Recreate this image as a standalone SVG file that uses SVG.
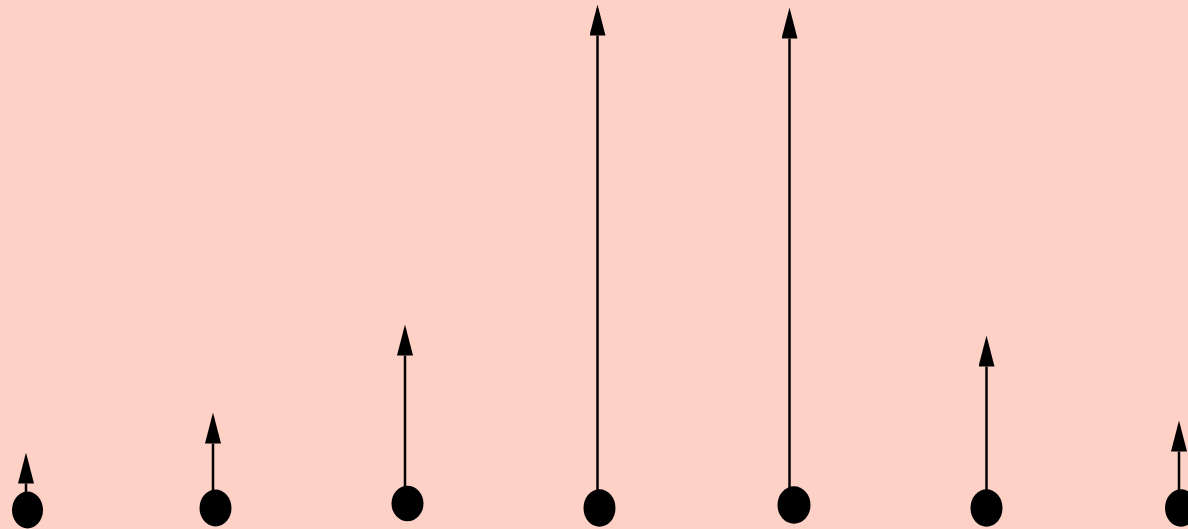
<svg xmlns="http://www.w3.org/2000/svg" width="1188" height="529" viewBox="0 0 1188 529">
  <style>
    .edge { stroke: #000; stroke-width: 2.5; fill: none; marker-end: url(#ah); }
    .dot { fill: #000; }
  </style>
  <defs>
    <marker id="ah" viewBox="0 0 31 16" refX="0" refY="8" markerWidth="31" markerHeight="16" markerUnits="userSpaceOnUse" orient="auto">
      <path d="M0,0 L31,8 L0,16 Z" fill="#000"/>
    </marker>
  </defs>
  <rect width="1188" height="529" fill="#FED1C7"/>
  <g id="connectors">
    <line class="edge" x1="26" y1="500" x2="26" y2="483.5"/>
    <line class="edge" x1="213" y1="500" x2="213" y2="443.5"/>
    <line class="edge" x1="405" y1="495" x2="405" y2="355.5"/>
    <line class="edge" x1="597.5" y1="500" x2="597.5" y2="35.5"/>
    <line class="edge" x1="789.5" y1="497" x2="789.5" y2="38.5"/>
    <line class="edge" x1="986.5" y1="500" x2="986.5" y2="366.5"/>
    <line class="edge" x1="1179" y1="500" x2="1179" y2="451.5"/>
  </g>
  <g id="node1"><ellipse class="dot" cx="27.5" cy="510" rx="15.5" ry="18.5"/></g>
  <g id="node2"><ellipse class="dot" cx="215.5" cy="508" rx="16" ry="18.5"/></g>
  <g id="node3"><ellipse class="dot" cx="407.5" cy="503.5" rx="16" ry="17.8"/></g>
  <g id="node4"><ellipse class="dot" cx="599.5" cy="508" rx="16" ry="18.8"/></g>
  <g id="node5"><ellipse class="dot" cx="794" cy="505" rx="16.5" ry="18.7"/></g>
  <g id="node6"><ellipse class="dot" cx="986.5" cy="508" rx="16" ry="18.7"/></g>
  <g id="node7"><ellipse class="dot" cx="1181" cy="508" rx="16" ry="18.7"/></g>
</svg>
